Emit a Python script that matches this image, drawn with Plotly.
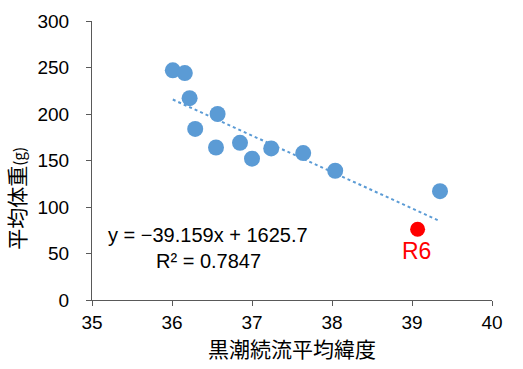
import plotly.graph_objects as go
import numpy as np

# Data
lat = [36.01, 36.16, 36.22, 36.29, 36.57, 36.55, 36.85, 37.00, 37.24, 37.64, 38.04, 39.35]
weight = [247, 244, 217, 184, 200, 164, 169, 152, 163, 158, 139, 117]
r6_lat = [39.07]
r6_weight = [76]
r6_label = "R6"
slope = -39.159
intercept = 1625.7
r2 = 0.7847
x_ticks = [35, 36, 37, 38, 39, 40]
y_ticks = [0, 50, 100, 150, 200, 250, 300]

blue = "#5B9BD5"
num_font = "Liberation Sans, Arial, sans-serif"
jp_font = "Noto Sans CJK JP, sans-serif"

W, H = 523, 369
ml, mr, mt, mb = 92, 31, 11, 69
pw, ph = W - ml - mr, H - mt - mb


def px_to_paper(px, py):
    return (px - ml) / pw, 1 - (py - mt) / ph


trend_x = np.array([min(lat), max(lat)])
trend_y = slope * trend_x + intercept

fig = go.Figure()
fig.add_trace(go.Scatter(x=trend_x, y=trend_y, mode="lines",
                         line=dict(color=blue, width=2, dash="dot"),
                         hoverinfo="skip", showlegend=False))
fig.add_trace(go.Scatter(x=lat, y=weight, mode="markers",
                         marker=dict(color=blue, size=16, line=dict(width=0)),
                         showlegend=False))
fig.add_trace(go.Scatter(x=r6_lat, y=r6_weight, mode="markers",
                         marker=dict(color="#FF0000", size=15, line=dict(width=0)),
                         showlegend=False))

fig.add_annotation(x=r6_lat[0], y=r6_weight[0], xref="x", yref="y", text=r6_label,
                   showarrow=False, yshift=-22, xshift=-1,
                   xanchor="center", yanchor="middle",
                   font=dict(family=num_font, size=23, color="#FF0000"))

eq_text = f"y = \u2212{abs(slope):.3f}x + {intercept:.1f}"
r2_text = f"R\u00b2 = {r2:.4f}"
ex, ey = px_to_paper(208, 233)
fig.add_annotation(x=ex, y=ey, xref="paper", yref="paper", text=eq_text, showarrow=False,
                   xanchor="center", yanchor="middle",
                   font=dict(family=num_font, size=20, color="#000000"))
rx, ry = px_to_paper(208, 260)
fig.add_annotation(x=rx, y=ry, xref="paper", yref="paper", text=r2_text, showarrow=False,
                   xanchor="center", yanchor="middle",
                   font=dict(family=num_font, size=20, color="#000000"))

tx, ty = px_to_paper(16, 195)
fig.add_annotation(x=tx, y=ty, xref="paper", yref="paper",
                   text="平均体重<span style='font-size:15px'>(g)</span>", textangle=-90,
                   xanchor="center", yanchor="middle",
                   showarrow=False, font=dict(family=jp_font, size=21, color="#000000"))

fig.update_layout(
    width=W, height=H,
    margin=dict(l=ml, r=mr, t=mt, b=mb),
    paper_bgcolor="white", plot_bgcolor="white",
    xaxis=dict(range=[35, 40], tickvals=x_ticks, ticks="outside", ticklen=5,
               tickcolor="#595959", showline=True, linecolor="#595959", linewidth=1,
               showgrid=False, zeroline=False,
               tickfont=dict(family=num_font, size=19, color="#000000"),
               title=dict(text="黒潮続流平均緯度", standoff=6,
                          font=dict(family=jp_font, size=21, color="#000000"))),
    yaxis=dict(range=[0, 300], tickvals=y_ticks, ticks="outside", ticklen=5,
               tickcolor="#595959", showline=True, linecolor="#595959", linewidth=1,
               showgrid=False, zeroline=False, ticklabelstandoff=13,
               tickfont=dict(family=num_font, size=19, color="#000000")),
)

fig.write_html("out.html")
